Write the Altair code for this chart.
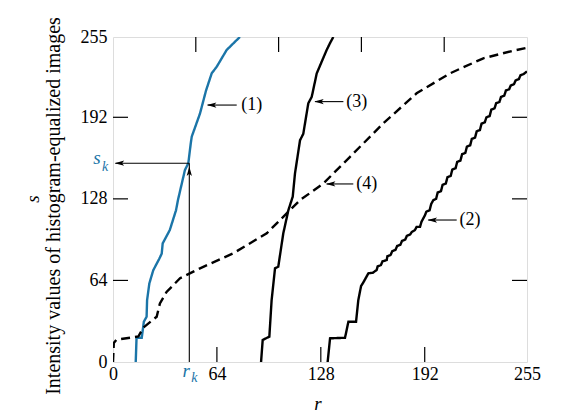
import altair as alt
import pandas as pd

# ---- data ----
c1_r = [14, 14.5, 17.7, 19, 20.7, 21, 22.4, 24.8, 28.5, 30, 30.6, 35, 38.8, 40, 44.3, 46.4, 47.9, 48.5, 53.6, 57.3, 60.8, 63.9, 70, 76.2, 78.2]
c1_s = [0, 19, 19, 31.6, 35.5, 48.6, 61.7, 72, 81, 85, 93, 103.6, 119, 127, 150.6, 156, 171.6, 176.8, 195, 213, 226.5, 231.7, 244.8, 252.6, 255]

c2_r = [132.2, 133.7, 142.9, 145, 149.7, 151.1, 152.8, 154, 157.3, 160, 162.4, 163, 165, 166, 168.6, 169, 171, 172, 174, 175, 177, 178, 180, 181, 183, 184, 186,
        187, 189.1, 190, 192.2, 193, 195, 196, 197.3, 199, 200, 202, 203, 205, 206, 208, 209, 211, 212, 214, 215, 217, 218, 220, 221, 223, 224, 226, 227,
        229, 230, 232, 233, 235, 236, 238, 239, 241, 242, 244, 245, 247, 248, 250, 251, 253, 255]
c2_s = [0, 18.6, 19, 31.6, 31.6, 48.6, 59.6, 62, 69.6, 70, 72.2, 75, 76, 79, 80, 83, 84, 87, 88, 91, 92, 95, 96, 99, 100, 102, 103.6,
        106, 106, 110, 115.3, 118, 119, 124, 127, 128, 133, 134, 139, 140, 145, 146, 151, 152, 157, 158, 163, 164, 169, 170, 175, 176, 181, 182, 187,
        188, 192, 193, 198, 199, 203, 204, 208, 209, 213, 214, 217, 218, 221, 222, 225, 226, 228]

c3_r = [91.2, 92.2, 96.3, 97.7, 99.8, 101.8, 104.9, 108, 110.7, 112.1, 115.2, 117.2, 120.3, 122.4, 125.5, 131.6, 133.6, 135.7]
c3_s = [0, 17.3, 19.9, 48.6, 73.5, 74.8, 101, 119, 129.7, 148, 174, 179, 203, 208, 226.5, 244.8, 250, 255]

c4_r = [0, 0.5, 2.1, 15.6, 18.7, 26.9, 28.9, 33, 41.3, 53.6, 74.1, 94.7, 115.2, 129.5, 146, 166.5, 187, 207.6, 228.1, 246.6, 255]
c4_s = [0, 15, 17.5, 20, 27, 35.5, 46, 55, 65.7, 73.5, 85.3, 101, 127, 140, 161, 187.3, 210.8, 226.5, 238.3, 244.3, 246.5]

curve_names = ["(1)", "(2)", "(3)", "(4)"]
label_r = [85.4, 219.9, 150.2, 156.3]
label_s = [201.6, 111.4, 204.3, 139.7]
arrow_from_r = [76.2, 211.7, 141.9, 148.0]
arrow_to_r = [58.3, 194.2, 124.4, 131.6]

r_k = 47
s_k = 156

axis_values = [0, 64, 128, 192, 255]
inner_ticks = [64, 128, 192]
top_ticks = [51, 102, 153, 204]

FONT = "Liberation Serif"
BLUE = "#1b75a8"

# ---- tables ----
rows = []
for name, rs, ss in zip(curve_names, [c1_r, c2_r, c3_r, c4_r], [c1_s, c2_s, c3_s, c4_s]):
    for i, (r, s) in enumerate(zip(rs, ss)):
        rows.append({"curve": name, "r": r, "s": s, "i": i})
curves = pd.DataFrame(rows)
labels = pd.DataFrame({"name": curve_names, "r": label_r, "s": label_s,
                       "r0": arrow_from_r, "r1": arrow_to_r})

xs = alt.Scale(domain=[0, 255], nice=False, zero=False)
ys = alt.Scale(domain=[0, 255], nice=False, zero=False)

base = alt.Chart(curves)

lines = base.mark_line(strokeWidth=2.4, clip=True).encode(
    x=alt.X("r:Q", scale=xs,
            axis=alt.Axis(values=axis_values, title=None, ticks=False, domain=False, grid=False,
                          labelFont=FONT, labelFontSize=18, labelColor="black",
                          labelPadding=3, labelFlush=False)),
    y=alt.Y("s:Q", scale=ys,
            axis=alt.Axis(values=axis_values, title=None, ticks=False, domain=False, grid=False,
                          labelFont=FONT, labelFontSize=18, labelColor="black",
                          labelPadding=6, labelFlush=False)),
    color=alt.Color("curve:N", scale=alt.Scale(domain=curve_names,
                                               range=[BLUE, "black", "black", "black"]), legend=None),
    strokeDash=alt.StrokeDash("curve:N", scale=alt.Scale(domain=curve_names,
                                                         range=[[1, 0], [1, 0], [1, 0], [9, 5]]), legend=None),
    order="i:Q",
)

# inward ticks
tb = pd.DataFrame({"v": inner_ticks})
tt = pd.DataFrame({"v": top_ticks})
bottom_ticks = alt.Chart(tb).mark_rule(color="black", strokeWidth=1.2).encode(
    x=alt.X("v:Q", scale=xs), y=alt.value(325), y2=alt.value(310))
left_ticks = alt.Chart(tb).mark_rule(color="black", strokeWidth=1.2).encode(
    y=alt.Y("v:Q", scale=ys), x=alt.value(0), x2=alt.value(15))
right_ticks = alt.Chart(tb).mark_rule(color="black", strokeWidth=1.2).encode(
    y=alt.Y("v:Q", scale=ys), x=alt.value(414), x2=alt.value(399))
top_tick = alt.Chart(tt).mark_rule(color="black", strokeWidth=1.2).encode(
    x=alt.X("v:Q", scale=xs), y=alt.value(0), y2=alt.value(15))

# label arrows
LEFT_HEAD = "M -1 0 L 1 -0.55 L 0.55 0 L 1 0.55 Z"
lab = alt.Chart(labels)
arrow_lines = lab.mark_rule(color="black", strokeWidth=1.1).encode(
    x=alt.X("r0:Q", scale=xs), x2="r1:Q", y=alt.Y("s:Q", scale=ys))
arrow_heads = lab.mark_point(shape=LEFT_HEAD, filled=True, color="black", size=90, opacity=1).encode(
    x=alt.X("r1:Q", scale=xs), y=alt.Y("s:Q", scale=ys), xOffset=alt.value(4))
label_text = lab.mark_text(font=FONT, fontSize=18, color="black", align="center", baseline="middle").encode(
    x=alt.X("r:Q", scale=xs), y=alt.Y("s:Q", scale=ys), text="name:N")

# r_k / s_k construction
k = pd.DataFrame({"rk": [r_k], "sk": [s_k], "zero": [0], "rleft": [1.5]})
kc = alt.Chart(k)
vline = kc.mark_rule(color="black", strokeWidth=1.1).encode(
    x=alt.X("rk:Q", scale=xs), y=alt.Y("zero:Q", scale=ys), y2="sk:Q")
hline = kc.mark_rule(color="black", strokeWidth=1.1).encode(
    x=alt.X("rleft:Q", scale=xs), x2="rk:Q", y=alt.Y("sk:Q", scale=ys))
up_head = kc.mark_point(shape=LEFT_HEAD, filled=True, color="black", size=90, opacity=1, angle=90).encode(
    x=alt.X("rk:Q", scale=xs), y=alt.Y("sk:Q", scale=ys), yOffset=alt.value(8))
left_head = kc.mark_point(shape=LEFT_HEAD, filled=True, color="black", size=90, opacity=1).encode(
    x=alt.X("rleft:Q", scale=xs), y=alt.Y("sk:Q", scale=ys), xOffset=alt.value(4))

rk_r = kc.mark_text(text="r", font=FONT, fontStyle="italic", fontSize=19, color=BLUE,
                    align="center", baseline="middle", dx=-3).encode(
    x=alt.X("rk:Q", scale=xs), y=alt.value(334))
rk_k = kc.mark_text(text="k", font=FONT, fontStyle="italic", fontSize=14, color=BLUE,
                    align="center", baseline="middle", dx=5).encode(
    x=alt.X("rk:Q", scale=xs), y=alt.value(341))
sk_s = kc.mark_text(text="s", font=FONT, fontStyle="italic", fontSize=19, color=BLUE,
                    align="center", baseline="middle", dy=-5).encode(
    x=alt.value(-16), y=alt.Y("sk:Q", scale=ys))
sk_k = kc.mark_text(text="k", font=FONT, fontStyle="italic", fontSize=14, color=BLUE,
                    align="center", baseline="middle", dy=4).encode(
    x=alt.value(-8), y=alt.Y("sk:Q", scale=ys))

# titles
x_title = kc.mark_text(text="r", font=FONT, fontStyle="italic", fontSize=19, color="black",
                       align="center", baseline="middle").encode(x=alt.value(205), y=alt.value(367))
y_title_s = kc.mark_text(text="s", font=FONT, fontStyle="italic", fontSize=19, color="black",
                         align="center", baseline="middle", angle=270).encode(x=alt.value(-80), y=alt.value(162))
y_title = kc.mark_text(text="Intensity values of histogram-equalized images", font=FONT, fontSize=20,
                       color="black", align="center", baseline="middle", angle=270).encode(
    x=alt.value(-59), y=alt.value(169))

chart = alt.layer(
    lines, bottom_ticks, left_ticks, right_ticks, top_tick,
    arrow_lines, arrow_heads, label_text,
    vline, hline, up_head, left_head,
    rk_r, rk_k, sk_s, sk_k, x_title, y_title_s, y_title,
).properties(
    width=414, height=325,
    autosize=alt.AutoSizeParams(type="none"),
    padding={"left": 105, "top": 29, "right": 40, "bottom": 56},
).configure_view(stroke="black", strokeWidth=1.5).configure(background="white")

chart.save("out.html", embed_options={"renderer": "svg", "actions": False})
